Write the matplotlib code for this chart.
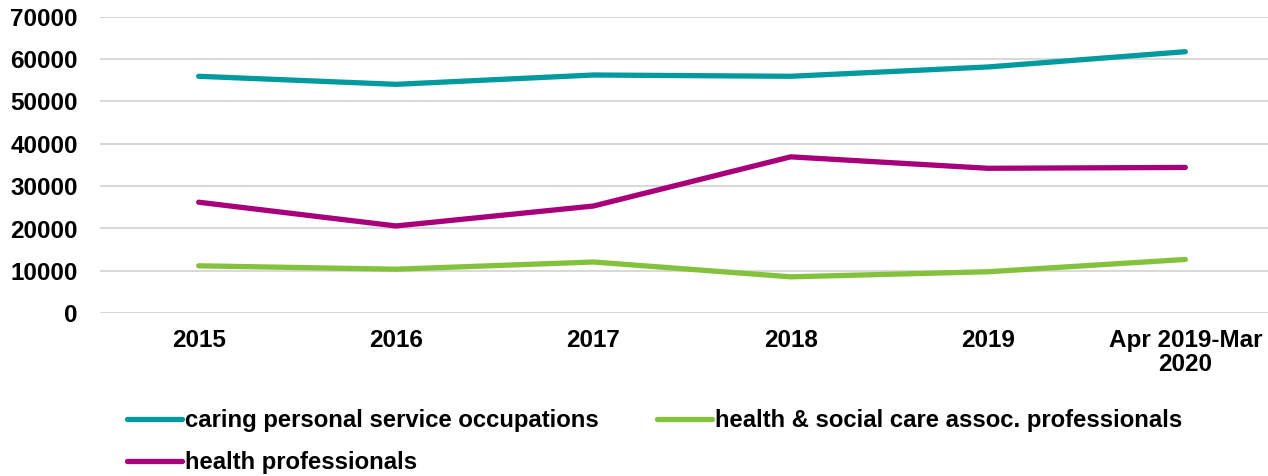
import numpy as np
import matplotlib.pyplot as plt

plt.rcParams['font.family'] = ['Liberation Sans', 'DejaVu Sans']
plt.rcParams['font.weight'] = 'bold'

# data
periods = ['2015', '2016', '2017', '2018', '2019', 'Apr 2019-Mar\n2020']
caring = [55900, 54000, 56200, 55900, 58100, 61700]
health_prof = [26200, 20600, 25300, 36900, 34200, 34400]
health_social = [11200, 10400, 12100, 8600, 9800, 12700]

teal = '#009A9F'
green = '#84C13C'
magenta = '#A8007A'

fig = plt.figure(figsize=(12.68, 4.76), dpi=100)
ax = fig.add_axes([100/1268, 1-313.3/476, 1184/1268, 296.8/476])

x = np.arange(len(periods))
l1, = ax.plot(x, caring, color=teal, lw=3.8, solid_capstyle='round', solid_joinstyle='round',
              label='caring personal service occupations')
l2, = ax.plot(x, health_social, color=green, lw=3.8, solid_capstyle='round', solid_joinstyle='round',
              label='health & social care assoc. professionals')
l3, = ax.plot(x, health_prof, color=magenta, lw=3.8, solid_capstyle='round', solid_joinstyle='round',
              label='health professionals')

ax.set_xlim(-0.5, 5.5)
ax.set_ylim(0, 70000)
ax.set_yticks(np.arange(0, 70001, 10000))
ax.set_xticks(x)
ax.set_xticklabels(periods, fontsize=17.5, fontweight='bold', linespacing=1.08)
ax.tick_params(axis='y', labelsize=17.5, length=0, pad=16)
ax.tick_params(axis='x', length=0, pad=11)
ax.grid(axis='y', color='#D9D9D9', lw=1.5)
ax.set_axisbelow(True)
for s in ax.spines.values():
    s.set_visible(False)

leg = fig.legend(handles=[l1, l3, l2], ncol=2, loc='upper left',
                 bbox_to_anchor=(127/1268, 1-409/476), frameon=False,
                 prop={'size': 17.2, 'weight': 'bold'}, handlelength=2.3,
                 handletextpad=0.12, columnspacing=2.45, labelspacing=0.8,
                 borderaxespad=0, borderpad=0)

fig.savefig('out.png', dpi=100)
